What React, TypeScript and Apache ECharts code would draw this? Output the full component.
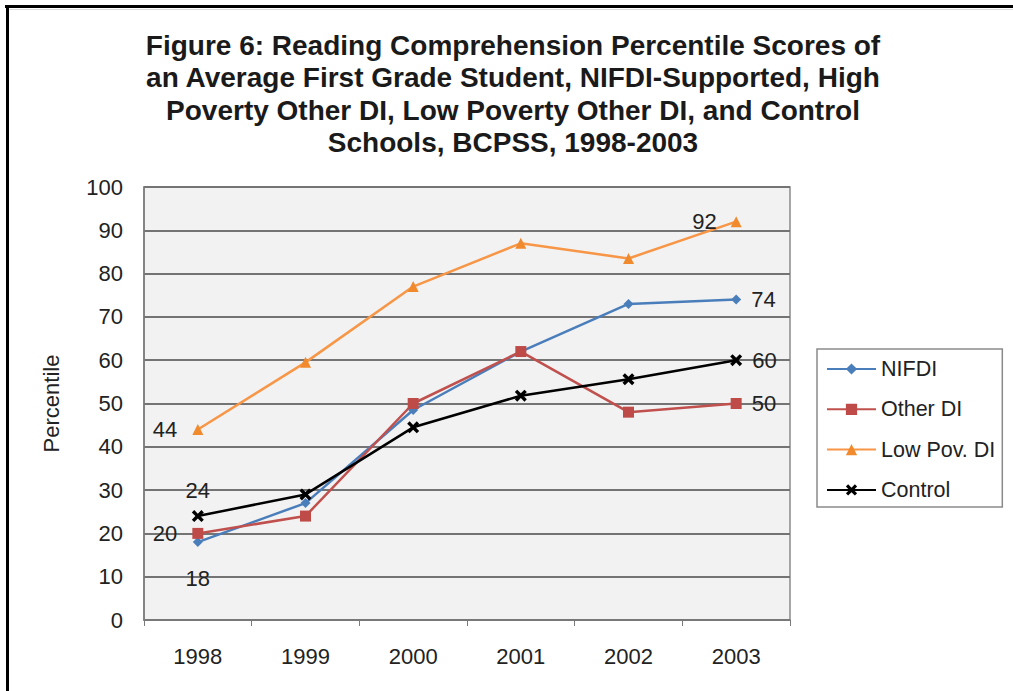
import React, { useEffect, useRef } from "react";
import * as echarts from "echarts";

const categories = ["1998", "1999", "2000", "2001", "2002", "2003"];
const nifdi = [18, 27, 48.5, 62, 73, 74];
const otherDI = [20, 24, 50, 62, 48, 50];
const lowPovDI = [44, 59.5, 77, 87, 83.5, 92];
const control = [24, 29, 44.5, 51.8, 55.6, 60];
const yTicks = [0, 10, 20, 30, 40, 50, 60, 70, 80, 90, 100];

const titleLines = [
  "Figure 6: Reading Comprehension Percentile Scores of",
  "an Average First Grade Student, NIFDI-Supported, High",
  "Poverty Other DI, Low Poverty Other DI, and Control",
  "Schools, BCPSS, 1998-2003",
];

const FONT = "'Liberation Sans', Arial, Helvetica, sans-serif";
const X_SYMBOL =
  "path://M2,0 L5,3 L8,0 L10,2 L7,5 L10,8 L8,10 L5,7 L2,10 L0,8 L3,5 L0,2 Z";

export default function App() {
  const ref = useRef<HTMLDivElement>(null);

  useEffect(() => {
    document.body.style.margin = "0";
    if (!ref.current) return;
    const chart = echarts.init(ref.current, undefined, { renderer: "svg" });

    const labelBase = {
      show: true,
      color: "#222",
      fontFamily: FONT,
      fontSize: 22,
    };
    const endLabel = (pos: string, dist: number) => ({
      ...labelBase,
      position: pos,
      distance: dist,
    });

    const mkData = (vals: number[], labels: Record<number, any>) =>
      vals.map((v, i) =>
        labels[i] ? { value: v, label: labels[i] } : { value: v }
      );

    const option: any = {
      animation: false,
      backgroundColor: "#ffffff",
      textStyle: { fontFamily: FONT },
      title: {
        text: titleLines.join("\n"),
        left: 508,
        top: 24,
        textAlign: "center",
        textStyle: {
          fontFamily: FONT,
          fontSize: 28,
          fontWeight: "bold",
          color: "#1a1a1a",
          lineHeight: 32.5,
        },
      },
      graphic: [
        { type: "rect", shape: { x: 5, y: 5, width: 1020, height: 3 }, style: { fill: "#000" } },
        { type: "rect", shape: { x: 6, y: 5, width: 3, height: 700 }, style: { fill: "#000" } },
        { type: "rect", shape: { x: 9, y: 9, width: 1010, height: 1 }, style: { fill: "#dcdcdc" } },
      ],
      legend: {
        orient: "vertical",
        left: 817,
        top: 349,
        padding: [9, 7, 6, 9],
        itemWidth: 49,
        itemHeight: 14,
        itemGap: 18.3,
        borderColor: "#8a8a8a",
        borderWidth: 1.5,
        backgroundColor: "#ffffff",
        textStyle: {
          fontFamily: FONT,
          fontSize: 21.5,
          color: "#222",
          lineHeight: 20,
        },
        data: ["NIFDI", "Other DI", "Low Pov. DI", "Control"],
      },
      grid: {
        left: 144,
        top: 187,
        right: 223,
        bottom: 71,
        show: true,
        backgroundColor: "#f2f2f2",
        borderColor: "#8a8a8a",
        borderWidth: 1.5,
      },
      xAxis: {
        type: "category",
        data: categories,
        boundaryGap: true,
        axisLine: { lineStyle: { color: "#7a7a7a", width: 1.5 } },
        axisTick: { show: true, length: 6, interval: 0, lineStyle: { color: "#7a7a7a" } },
        axisLabel: {
          color: "#222",
          fontFamily: FONT,
          fontSize: 22,
          margin: 25,
        },
      },
      yAxis: {
        type: "value",
        min: yTicks[0],
        max: yTicks[yTicks.length - 1],
        interval: 10,
        name: "Percentile",
        nameLocation: "middle",
        nameGap: 82,
        nameRotate: 90,
        nameTextStyle: { color: "#222", fontFamily: FONT, fontSize: 22 },
        axisLine: { show: true, lineStyle: { color: "#7a7a7a", width: 1.5 } },
        axisTick: { show: false },
        axisLabel: {
          color: "#222",
          fontFamily: FONT,
          fontSize: 22,
          margin: 21,
        },
        splitLine: { show: true, lineStyle: { color: "#747474", width: 2 } },
      },
      series: [
        {
          name: "NIFDI",
          type: "line",
          data: mkData(nifdi, {
            0: endLabel("bottom", 20),
            5: endLabel("right", 10),
          }),
          symbol: "diamond",
          symbolSize: 10,
          lineStyle: { color: "#4a7ebb", width: 2.5 },
          itemStyle: { color: "#4a7ebb" },
          label: { show: false },
        },
        {
          name: "Other DI",
          type: "line",
          data: mkData(otherDI, {
            0: endLabel("left", 15),
            5: endLabel("right", 10),
          }),
          symbol: "rect",
          symbolSize: 11,
          lineStyle: { color: "#c0504d", width: 2.5 },
          itemStyle: { color: "#be4b48" },
          label: { show: false },
        },
        {
          name: "Low Pov. DI",
          type: "line",
          data: mkData(lowPovDI, {
            0: endLabel("left", 15),
            5: endLabel("left", 14),
          }),
          symbol: "triangle",
          symbolSize: 11,
          lineStyle: { color: "#f79646", width: 2.5 },
          itemStyle: { color: "#f08a2c" },
          label: { show: false },
        },
        {
          name: "Control",
          type: "line",
          data: mkData(control, {
            0: endLabel("top", 9),
            5: endLabel("right", 10),
          }),
          symbol: X_SYMBOL,
          symbolSize: 12,
          lineStyle: { color: "#000000", width: 2.5 },
          itemStyle: { color: "#000000" },
          label: { show: false },
        },
      ],
    };

    chart.setOption(option);
    return () => chart.dispose();
  }, []);

  return (
    <div
      ref={ref}
      style={{ position: "absolute", left: 0, top: 0, width: 1013, height: 691 }}
    />
  );
}
